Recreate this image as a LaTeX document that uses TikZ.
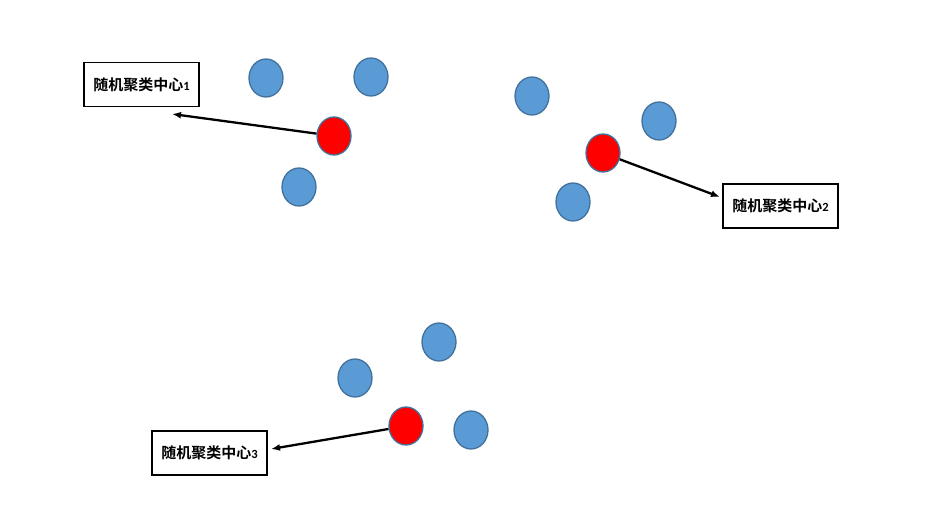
\documentclass[tikz,border=0pt]{standalone}
\usepackage{fontspec}
\newfontfamily\cjk{Noto Sans CJK SC}[BoldFont={Noto Sans CJK SC Bold}]
\newfontfamily\digitfont{Carlito}
\usetikzlibrary{shapes.geometric,arrows.meta}
\definecolor{ptblue}{HTML}{5B9BD5}
\definecolor{ptedge}{HTML}{41719C}
\tikzset{
  pt/.style={ellipse,draw=ptedge,line width=1.3pt,minimum width=34pt,minimum height=38pt,inner sep=0pt},
  bluept/.style={pt,fill=ptblue},
  redpt/.style={pt,fill=red},
  labelbox/.style={draw=black,line width=1.5pt,minimum width=115pt,minimum height=44pt,inner sep=0pt,font=\cjk\bfseries\fontsize{15pt}{17pt}\selectfont},
  ptr/.style={line width=2.3pt,-{Latex[length=9pt,width=7pt]}}
}
\newcommand{\dg}[1]{{\digitfont\bfseries\fontsize{12.5pt}{14pt}\selectfont #1}}
\begin{document}
\begin{tikzpicture}[x=1pt,y=-1pt]
\useasboundingbox (0,0) rectangle (950,526);
\node[bluept] (b1) at (266,78) {};
\node[bluept] (b2) at (371,77) {};
\node[bluept] (b3) at (532,96) {};
\node[bluept] (b4) at (659,121) {};
\node[bluept] (b5) at (299,187) {};
\node[bluept] (b6) at (573,202) {};
\node[bluept] (b7) at (439,342) {};
\node[bluept] (b8) at (355,378) {};
\node[bluept] (b9) at (471,430) {};
\node[redpt] (r1) at (334,136) {};
\node[redpt] (r2) at (603,153) {};
\node[redpt] (r3) at (406,426) {};
\node[labelbox] (l1) at (141.5,84.5) {随机聚类中心\dg{1}};
\node[labelbox] (l2) at (780.5,206) {随机聚类中心\dg{2}};
\node[labelbox] (l3) at (209.5,453) {随机聚类中心\dg{3}};
\coordinate (a1) at (172,114);
\coordinate (a2) at (720,197);
\coordinate (a3) at (271,449);
\draw[ptr] (r1) -- (a1);
\draw[ptr] (r2) -- (a2);
\draw[ptr] (r3) -- (a3);
\end{tikzpicture}
\end{document}
